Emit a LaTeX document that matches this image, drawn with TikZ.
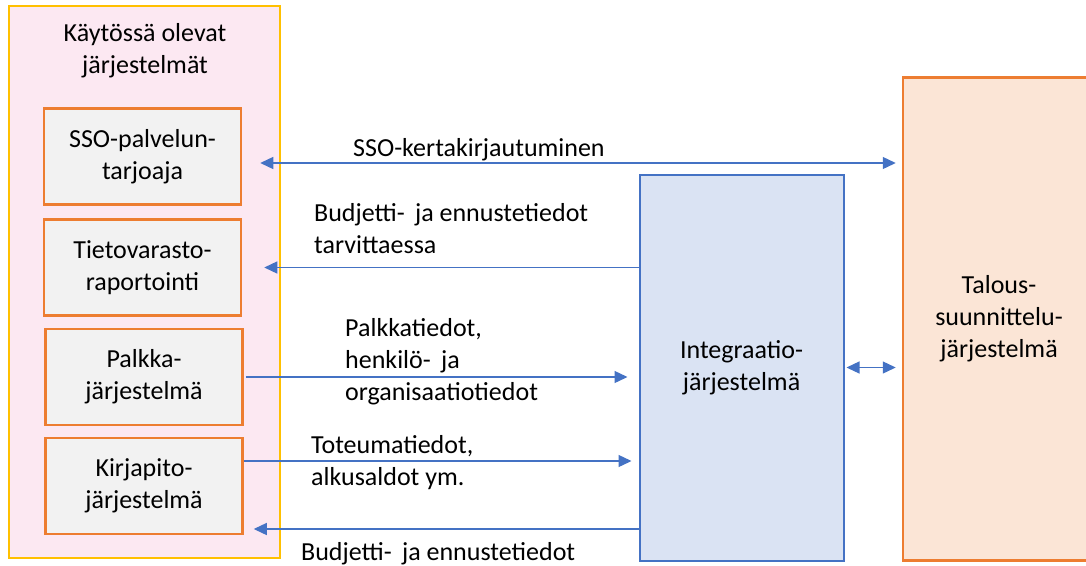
\documentclass[tikz,border=0pt]{standalone}
\usepackage{fontspec}
\setmainfont{Carlito}
\usetikzlibrary{arrows.meta}

\definecolor{pinkbg}{HTML}{FCE8F2}
\definecolor{goldline}{HTML}{FFC000}
\definecolor{orangeline}{HTML}{ED7D31}
\definecolor{greybg}{HTML}{F2F2F2}
\definecolor{bluebg}{HTML}{DAE3F3}
\definecolor{blueline}{HTML}{4472C4}
\definecolor{peachbg}{HTML}{FBE5D6}

\begin{document}
\begin{tikzpicture}[x=1pt,y=-1pt,
  every node/.style={font=\fontsize{26}{32}\selectfont},
  sysbox/.style={draw=orangeline,line width=2.5pt,fill=greybg,align=center,inner sep=0pt,
    minimum width=197pt,minimum height=96pt},
  flowlbl/.style={align=left,inner sep=0pt,anchor=base west},
  flow/.style={draw=blueline,line width=1.3pt,-{Triangle[length=13pt,width=12pt]}},
  twoway/.style={draw=blueline,line width=1.3pt,
    {Triangle[length=13pt,width=12pt]}-{Triangle[length=13pt,width=12pt]}}]
\clip (0,0) rectangle (1086,565);

% systems in use (base anchor = baseline of the last line)
\node[draw=goldline,line width=2.2pt,fill=pinkbg,minimum width=271pt,minimum height=552pt] (kaytossa) at (144.5,282) {};
\node[align=center,inner sep=0pt,anchor=base] (otsikko) at (145,73) {Käytössä olevat\\järjestelmät};
\node[sysbox] (sso) at (142.5,156.5) {SSO-palvelun-\\tarjoaja};
\node[sysbox] (tieto) at (142.5,267.5) {Tietovarasto-\\raportointi};
\node[sysbox] (palkka) at (144,377) {Palkka-\\järjestelmä};
\node[sysbox] (kirja) at (144,486) {Kirjapito-\\järjestelmä};

% integration and planning
\node[draw=blueline,line width=2pt,fill=bluebg,align=center,minimum width=204pt,minimum height=386pt] (integ) at (741.5,367.5) {Integraatio-\\järjestelmä};
\node[draw=orangeline,line width=2.5pt,fill=peachbg,align=center,minimum width=192pt,minimum height=483pt] (talous) at (999,319) {Talous-\\suunnittelu-\\järjestelmä};

% data flows
\coordinate (ssoL) at ([shift={(18pt,-6.5pt)}]sso.east);
\draw[twoway] (ssoL) -- ([xshift=-6pt]talous.west |- ssoL);
\node[flowlbl] (ssolbl) at (353,156) {SSO-kertakirjautuminen};

\draw[flow] (integ.west |- tieto.east) -- ([xshift=22pt]tieto.east);
\node[flowlbl] (budlbl1) at (314,253) {Budjetti-\, ja ennustetiedot\\tarvittaessa};

\draw[flow] ([xshift=2pt]palkka.east) -- ([xshift=-11pt]integ.west |- palkka.east);
\node[flowlbl] (palkkalbl) at (345,400) {Palkkatiedot,\\henkilö-\, ja\\organisaatiotiedot};

\coordinate (tot) at ([yshift=25pt]kirja.east);
\draw[flow] (tot) -- ([xshift=-7pt]integ.west |- tot);
\node[flowlbl] (totlbl) at (311,485) {Toteumatiedot,\\alkusaldot ym.};

\coordinate (bud) at ([shift={(10pt,-43pt)}]kirja.east);
\draw[flow] (integ.west |- bud) -- (bud);
\node[flowlbl] (budlbl2) at (301,560) {Budjetti-\, ja ennustetiedot};

\draw[twoway] ([xshift=2pt]integ.east) -- ([xshift=-6pt]talous.west |- integ.east);
\end{tikzpicture}
\end{document}
